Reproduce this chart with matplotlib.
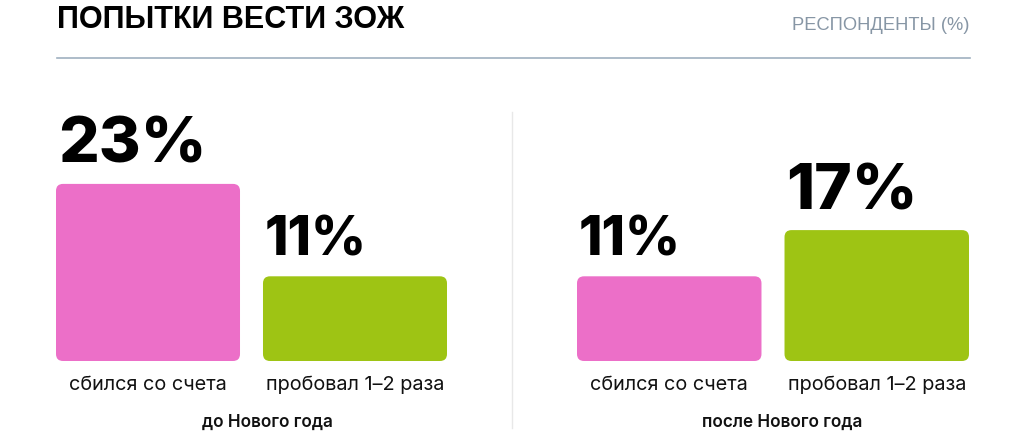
import matplotlib
matplotlib.use("Agg")
import matplotlib.pyplot as plt
from matplotlib.patches import FancyBboxPatch
from matplotlib.lines import Line2D

# data
categories = ["сбился со счета", "пробовал 1–2 раза"]
groups = ["до Нового года", "после Нового года"]
before_ny = [23, 11]
after_ny = [11, 17]
colors = ["#EC6FC8", "#9EC414"]

title = "ПОПЫТКИ ВЕСТИ ЗОЖ"
unit_note = "РЕСПОНДЕНТЫ (%)"

W, H = 1024, 436
fig = plt.figure(figsize=(W / 100, H / 100), dpi=100)
fig.patch.set_facecolor("white")

num_font = ["Inter", "DejaVu Sans"]
label_font = ["Inter", "DejaVu Sans"]
title_font = ["Liberation Sans", "DejaVu Sans"]


def px(x, y, w, h):
    # pixel box (from top-left) -> figure fraction
    return [x / W, (H - y - h) / H, w / W, h / H]


bar_w = 0.889
ymax = 30
ax_h = ymax * 7.7


def draw_panel(ax, values, group_name, group_x):
    ax.set_xlim(-bar_w / 2, 1 + bar_w / 2)
    ax.set_ylim(0, ymax)
    ax.axis("off")
    bars = ax.bar(range(len(values)), values, width=bar_w, color=colors)
    # aspect so that corner rounding looks round in pixels
    bbox = ax.get_window_extent()
    x_per_px = (1 + bar_w) / bbox.width
    y_per_px = ymax / bbox.height
    top = max(values)
    for b, v, c, cat in zip(bars, values, colors, categories):
        b.set_visible(False)
        r = 7 * x_per_px
        fb = FancyBboxPatch((b.get_x(), 0), b.get_width(), v,
                            boxstyle=f"round,pad=0,rounding_size={r}",
                            mutation_aspect=y_per_px / x_per_px,
                            facecolor=c, edgecolor="none")
        ax.add_patch(fb)
        ax.annotate(f"{v}%", (b.get_x(), v), xytext=(2, 21),
                    textcoords="offset pixels", ha="left", va="baseline",
                    fontsize=46 if v == top else 38.5, fontweight="heavy",
                    family=num_font, color="black")
        ax.annotate(cat, (b.get_x() + b.get_width() / 2, 0), xytext=(0, -29),
                    textcoords="offset pixels", ha="center", va="baseline",
                    fontsize=14.3, family=label_font, color="#111111")
    fig.text(group_x / W, (H - 427) / H, group_name, ha="center", va="baseline",
             fontsize=12.3, fontweight="semibold", family=label_font, color="#111111")


ax1 = fig.add_axes(px(56, 361 - ax_h, 391, ax_h))
ax2 = fig.add_axes(px(577, 361 - ax_h, 392, ax_h))
draw_panel(ax1, before_ny, groups[0], 267)
draw_panel(ax2, after_ny, groups[1], 782)

# header
fig.text(57 / W, (H - 28) / H, title, ha="left", va="baseline",
         fontsize=22, fontweight="bold", family=title_font, color="black")
fig.text(970 / W, (H - 30) / H, unit_note, ha="right", va="baseline",
         fontsize=13.2, family=title_font, color="#8796A5")
fig.add_artist(Line2D([57 / W, 970 / W], [(H - 58) / H] * 2,
                      color="#9FB0C0", lw=1.2))
# divider between the panels
fig.add_artist(Line2D([512 / W] * 2, [(H - 112) / H, (H - 428) / H],
                      color="#E8E8E8", lw=1))

fig.savefig("out.png", dpi=100)
